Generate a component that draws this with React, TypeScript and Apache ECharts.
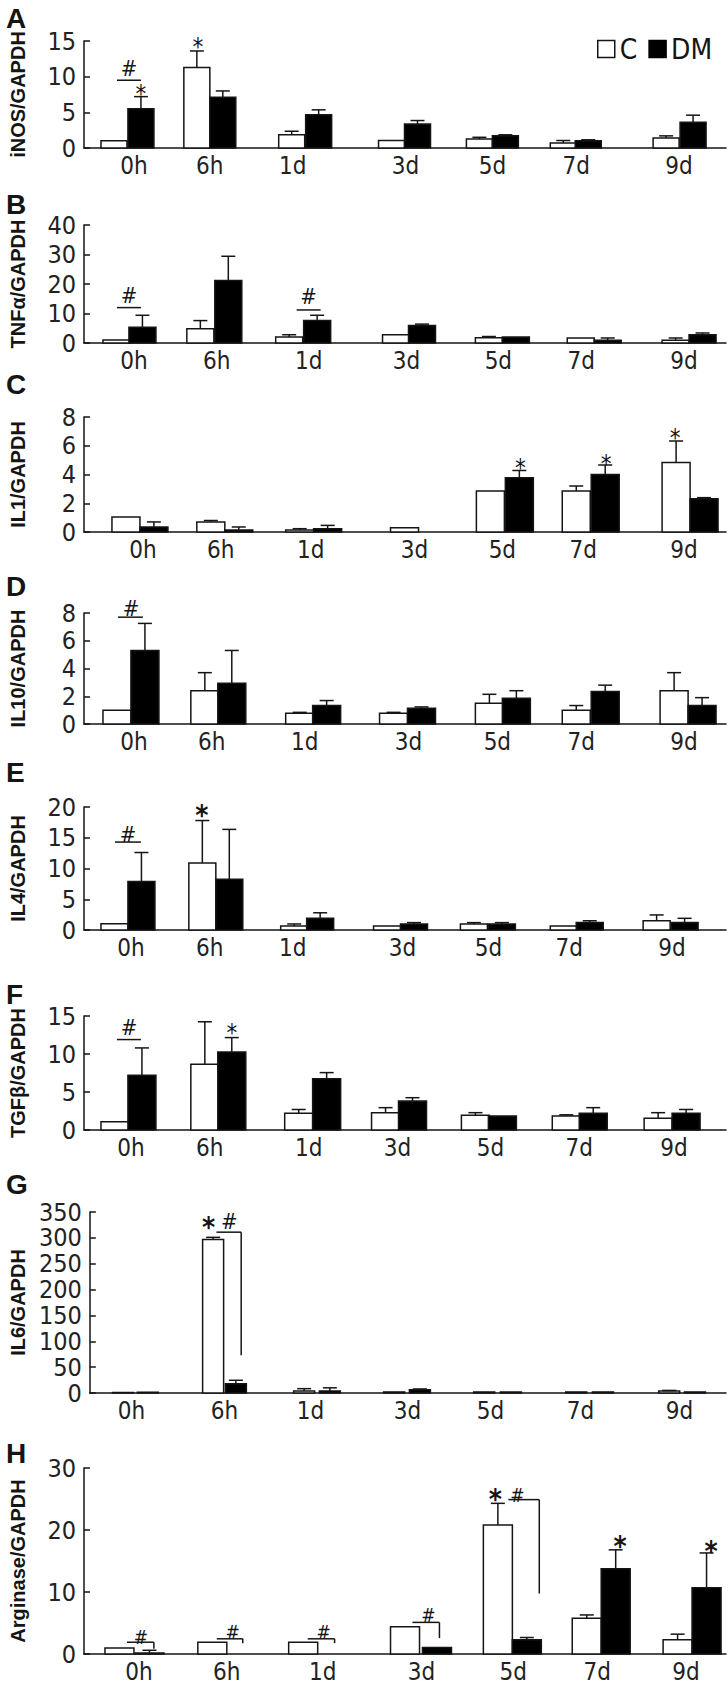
import React, { useEffect, useRef } from "react";
import * as echarts from "echarts";

const CATEGORIES = ["0h", "6h", "1d", "3d", "5d", "7d", "9d"];
const SERIES_NAMES = ["C", "DM"];
const MARK_SYMBOLS = ["*", "#"];

// A — iNOS/GAPDH
const INOS_C = [1.0, 11.3, 1.85, 1.05, 1.25, 0.7, 1.4];
const INOS_C_ERR = [0, 2.3, 0.5, 0, 0.25, 0.35, 0.3];
const INOS_DM = [5.5, 7.1, 4.65, 3.35, 1.7, 1.0, 3.6];
const INOS_DM_ERR = [1.7, 0.9, 0.7, 0.5, 0.15, 0.15, 1.0];

// B — TNFα/GAPDH
const TNF_C = [1.0, 4.8, 2.0, 2.8, 1.8, 1.7, 0.9];
const TNF_C_ERR = [0, 2.8, 0.8, 0, 0.4, 0, 0.8];
const TNF_DM = [5.3, 21.2, 7.6, 5.9, 2.0, 0.9, 2.8];
const TNF_DM_ERR = [4.1, 8.2, 1.8, 0.5, 0, 0.8, 0.6];

// C — IL1/GAPDH
const IL1_C = [1.05, 0.7, 0.14, 0.3, 2.85, 2.85, 4.83];
const IL1_C_ERR = [0, 0.1, 0.09, 0, 0, 0.35, 1.5];
const IL1_DM = [0.35, 0.14, 0.23, 0, 3.78, 4.0, 2.32];
const IL1_DM_ERR = [0.35, 0.21, 0.23, 0, 0.5, 0.66, 0.07];

// D — IL10/GAPDH
const IL10_C = [1.0, 2.4, 0.77, 0.77, 1.5, 1.0, 2.4];
const IL10_C_ERR = [0, 1.3, 0.07, 0.07, 0.64, 0.33, 1.3];
const IL10_DM = [5.3, 2.94, 1.33, 1.13, 1.86, 2.34, 1.33];
const IL10_DM_ERR = [1.95, 2.36, 0.36, 0.1, 0.54, 0.46, 0.57];

// E — IL4/GAPDH
const IL4_C = [1.0, 10.9, 0.65, 0.65, 0.98, 0.65, 1.5];
const IL4_C_ERR = [0, 6.9, 0.33, 0, 0.22, 0, 0.95];
const IL4_DM = [7.9, 8.26, 1.9, 0.98, 0.98, 1.2, 1.2];
const IL4_DM_ERR = [4.7, 8.1, 0.9, 0.22, 0.22, 0.3, 0.7];

// F — TGFβ/GAPDH
const TGF_C = [1.1, 8.64, 2.2, 2.28, 1.93, 1.84, 1.54];
const TGF_C_ERR = [0, 5.6, 0.5, 0.66, 0.35, 0.16, 0.74];
const TGF_DM = [7.2, 10.26, 6.75, 3.8, 1.84, 2.2, 2.2];
const TGF_DM_ERR = [3.6, 1.9, 0.8, 0.45, 0, 0.74, 0.5];

// G — IL6/GAPDH
const IL6_C = [1.0, 297, 4, 2, 2, 2, 4];
const IL6_C_ERR = [0, 4, 4.4, 0, 0, 0, 1];
const IL6_DM = [1.5, 18, 4, 6.5, 2, 2, 2];
const IL6_DM_ERR = [0, 6.6, 6, 1.3, 0, 0, 0];

// H — Arginase/GAPDH
const ARG_C = [0.96, 1.9, 1.9, 4.4, 20.8, 5.75, 2.3];
const ARG_C_ERR = [0, 0, 0, 0, 3.5, 0.55, 0.9];
const ARG_DM = [0.16, 0, 0, 1.06, 2.3, 13.75, 10.7];
const ARG_DM_ERR = [0.44, 0, 0, 0, 0.36, 3.05, 5.6];

// ---------- layout (page pixels) ----------
const W = 728;
const H = 1688;
const AXIS_X = 83;
const AXIS_END = 726;
const FONT = "'Liberation Sans Narrow', 'Arial Narrow', 'DejaVu Sans Condensed', 'Liberation Sans', Arial, sans-serif";
const BOLD_FONT = "'Liberation Sans', Arial, Helvetica, sans-serif";
const INK = "#151515";

type Panel = {
  letter: string; letterY: number; title: string; max: number; interval: number;
  top: number; height: number;
  c: number[]; cErr: number[]; dm: number[]; dmErr: number[];
  cLeft: number[]; dmLeft: number[]; barW: number; labelX: number[];
  marks: number[][]; segs: number[][]; starBold: boolean;
};

const PANELS: Panel[] = [
  {
    letter: "A", letterY: 4, title: "iNOS/GAPDH", max: 15, interval: 5, top: 41, height: 107,
    c: INOS_C, cErr: INOS_C_ERR, dm: INOS_DM, dmErr: INOS_DM_ERR,
    cLeft: [100, 183, 278, 378, 466, 550, 653], dmLeft: [127, 209, 305, 404, 492, 575, 680], barW: 26,
    labelX: [133, 209, 292, 405, 492, 576, 679],
    marks: [[128, 11.2, 1], [140, 8.4, 0], [197, 14.9, 0]],
    segs: [[116, 9.5, 140, 9.5]], starBold: false,
  },
  {
    letter: "B", letterY: 190, title: "TNFα/GAPDH", max: 40, interval: 10, top: 225, height: 118,
    c: TNF_C, cErr: TNF_C_ERR, dm: TNF_DM, dmErr: TNF_DM_ERR,
    cLeft: [102, 186, 275, 382, 475, 567, 662], dmLeft: [128, 214, 303, 408, 502, 594, 689], barW: 27,
    labelX: [133, 216, 308, 406, 498, 581, 684],
    marks: [[128, 16.1, 1], [308, 15.9, 1]],
    segs: [[116, 12, 140, 12], [296, 11.2, 320, 11.2]], starBold: false,
  },
  {
    letter: "C", letterY: 370, title: "IL1/GAPDH", max: 8, interval: 2, top: 417, height: 115,
    c: IL1_C, cErr: IL1_C_ERR, dm: IL1_DM, dmErr: IL1_DM_ERR,
    cLeft: [111, 196, 285, 390, 476, 562, 662], dmLeft: [139, 224, 313, 418, 505, 591, 690], barW: 28,
    labelX: [142, 220, 310, 414, 502, 583, 684],
    marks: [[520, 4.85, 0], [606, 5.1, 0], [675, 6.9, 0]],
    segs: [], starBold: false,
  },
  {
    letter: "D", letterY: 572, title: "IL10/GAPDH", max: 8, interval: 2, top: 613, height: 111,
    c: IL10_C, cErr: IL10_C_ERR, dm: IL10_DM, dmErr: IL10_DM_ERR,
    cLeft: [102, 190, 285, 379, 475, 562, 660], dmLeft: [130, 217, 312, 407, 502, 591, 688], barW: 28,
    labelX: [133, 211, 304, 408, 497, 581, 684],
    marks: [[130, 8.3, 1]],
    segs: [[117, 7.7, 142, 7.7]], starBold: false,
  },
  {
    letter: "E", letterY: 758, title: "IL4/GAPDH", max: 20, interval: 5, top: 807, height: 123,
    c: IL4_C, cErr: IL4_C_ERR, dm: IL4_DM, dmErr: IL4_DM_ERR,
    cLeft: [100, 188, 280, 373, 460, 550, 643], dmLeft: [127, 215, 306, 400, 488, 576, 671], barW: 27,
    labelX: [130, 209, 292, 402, 488, 569, 672],
    marks: [[127, 15.5, 1], [201, 19.6, 0]],
    segs: [[114, 14.3, 140, 14.3]], starBold: true,
  },
  {
    letter: "F", letterY: 980, title: "TGFβ/GAPDH", max: 15, interval: 5, top: 1016, height: 114,
    c: TGF_C, cErr: TGF_C_ERR, dm: TGF_DM, dmErr: TGF_DM_ERR,
    cLeft: [100, 190, 284, 371, 461, 552, 644], dmLeft: [127, 217, 312, 398, 488, 579, 672], barW: 28,
    labelX: [130, 209, 308, 397, 490, 579, 674],
    marks: [[128, 13.5, 1], [231, 13.5, 0]],
    segs: [[116, 11.9, 140, 11.9]], starBold: false,
  },
  {
    letter: "G", letterY: 1170, title: "IL6/GAPDH", max: 350, interval: 50, top: 1212, height: 181,
    c: IL6_C, cErr: IL6_C_ERR, dm: IL6_DM, dmErr: IL6_DM_ERR,
    cLeft: [106, 197, 289, 380, 471, 564, 658], dmLeft: [131, 220, 315, 406, 498, 591, 684], barW: 21,
    labelX: [125, 219, 306, 404, 488, 579, 679],
    marks: [[203, 332, 0], [224, 332, 1]],
    segs: [[211, 311, 236, 311], [236, 311, 236, 73]], starBold: true,
  },
  {
    letter: "H", letterY: 1439, title: "Arginase/GAPDH", max: 30, interval: 10, top: 1468, height: 186,
    c: ARG_C, cErr: ARG_C_ERR, dm: ARG_DM, dmErr: ARG_DM_ERR,
    cLeft: [104, 197, 288, 390, 483, 572, 663], dmLeft: [134, 227, 318, 422, 512, 601, 692], barW: 29,
    labelX: [138, 226, 322, 421, 513, 597, 686],
    marks: [[140, 2.7, 1], [232, 3.5, 1], [323, 3.5, 1], [428, 6.3, 1], [495, 26, 0], [517, 25.7, 1], [620, 18.3, 0], [711, 17.5, 0]],
    segs: [[126, 1.9, 153, 1.9], [153, 1.9, 153, 0.85], [216, 2.45, 242, 2.45], [242, 2.45, 242, 1.75],
      [307, 2.45, 334, 2.45], [334, 2.45, 334, 1.75], [412, 5.1, 439, 5.1], [439, 5.1, 439, 2.56],
      [508, 24.9, 539, 24.9], [539, 24.9, 539, 9.75]], starBold: true,
  },
];

const CAP_W = 14;

function barRenderer(w: number, fill: string) {
  return (params: any, api: any) => {
    const x = api.value(0);
    const v = api.value(1);
    const e = api.value(2);
    const base = api.coord([x, 0]);
    const top = api.coord([x, v]);
    const px = base[0];
    const children: any[] = [];
    if (v > 0) {
      children.push({
        type: "rect",
        shape: { x: px, y: top[1], width: w, height: base[1] - top[1] },
        style: { fill, stroke: INK, lineWidth: 1.5 },
      });
    }
    if (e > 0) {
      const et = api.coord([x, v + e]);
      const cx = px + w / 2;
      children.push({ type: "line", shape: { x1: cx, y1: top[1], x2: cx, y2: et[1] }, style: { stroke: INK, lineWidth: 1.5 } });
      children.push({ type: "line", shape: { x1: cx - CAP_W / 2, y1: et[1], x2: cx + CAP_W / 2, y2: et[1] }, style: { stroke: INK, lineWidth: 1.5 } });
    }
    return { type: "group", children };
  };
}

function buildOption() {
  const grid: any[] = [];
  const xAxis: any[] = [];
  const yAxis: any[] = [];
  const series: any[] = [];
  PANELS.forEach((p, i) => {
    grid.push({ left: AXIS_X, right: W - AXIS_END, top: p.top, height: p.height });
    xAxis.push({
      gridIndex: i, type: "value", min: AXIS_X, max: AXIS_END,
      splitLine: { show: false }, axisTick: { show: false },
      axisLine: { show: true, onZero: false, lineStyle: { color: INK, width: 1.5 } },
      axisLabel: {
        customValues: p.labelX,
        formatter: (v: number) => {
          const k = p.labelX.indexOf(v);
          return k >= 0 ? CATEGORIES[k] : "";
        },
        margin: 6, fontSize: 24, color: "#222", fontFamily: FONT,
      },
    });
    yAxis.push({
      gridIndex: i, type: "value", min: 0, max: p.max, interval: p.interval,
      splitLine: { show: false },
      axisLine: { show: true, lineStyle: { color: INK, width: 1.5 } },
      axisTick: { show: true, inside: true, length: 6, lineStyle: { color: INK, width: 1.5 } },
      axisLabel: { fontSize: 25, color: "#222", margin: 8, fontFamily: FONT },
      name: p.title, nameLocation: "middle", nameGap: 56, nameRotate: 90,
      nameTextStyle: { fontSize: 20, fontWeight: "bold", color: INK, fontFamily: BOLD_FONT },
    });
    series.push({
      type: "custom", name: SERIES_NAMES[0], xAxisIndex: i, yAxisIndex: i, silent: true,
      data: p.c.map((v, k) => [p.cLeft[k], v, p.cErr[k]]),
      renderItem: barRenderer(p.barW, "#ffffff"),
      itemStyle: { color: "#ffffff" },
    });
    series.push({
      type: "custom", name: SERIES_NAMES[1], xAxisIndex: i, yAxisIndex: i, silent: true,
      data: p.dm.map((v, k) => [p.dmLeft[k], v, p.dmErr[k]]),
      renderItem: barRenderer(p.barW, "#000000"),
      itemStyle: { color: "#000000" },
    });
    series.push({
      type: "custom", xAxisIndex: i, yAxisIndex: i, silent: true,
      data: p.marks,
      renderItem: (params: any, api: any) => {
        const pt = api.coord([api.value(0), api.value(1)]);
        const kind = api.value(2);
        const sym = MARK_SYMBOLS[kind];
        const isStar = kind === 0;
        const fs = isStar ? (p.starBold ? 28 : 24) : (p.letter === "H" ? 19 : 22);
        return {
          type: "text",
          x: pt[0],
          y: pt[1] + (isStar ? fs * 0.23 : 0),
          style: {
            text: sym, fill: INK, fontSize: fs, fontFamily: FONT,
            fontWeight: isStar && p.starBold ? "bold" : "normal",
            align: "center", verticalAlign: "middle",
          },
        };
      },
    });
    series.push({
      type: "custom", xAxisIndex: i, yAxisIndex: i, silent: true,
      data: p.segs,
      renderItem: (params: any, api: any) => {
        const a = api.coord([api.value(0), api.value(1)]);
        const b = api.coord([api.value(2), api.value(3)]);
        return { type: "line", shape: { x1: a[0], y1: a[1], x2: b[0], y2: b[1] }, style: { stroke: INK, lineWidth: 1.5 } };
      },
    });
  });

  return {
    animation: false,
    backgroundColor: "#ffffff",
    textStyle: { fontFamily: FONT },
    grid, xAxis, yAxis, series,
    legend: {
      left: 592, top: 30, itemWidth: 17, itemHeight: 17, itemGap: 11, selectedMode: false,
      textStyle: { fontSize: 28, color: INK, fontFamily: FONT },
      data: [
        { name: SERIES_NAMES[0], icon: "rect", itemStyle: { color: "#ffffff", borderColor: INK, borderWidth: 1.5 } },
        { name: SERIES_NAMES[1], icon: "rect", itemStyle: { color: "#000000", borderColor: "#000000", borderWidth: 1.5 } },
      ],
    },
    graphic: PANELS.map((p) => ({
      type: "text", left: 6, top: p.letterY, silent: true,
      style: { text: p.letter, fontSize: 28, fontWeight: "bold", fontFamily: BOLD_FONT, fill: INK },
    })),
  };
}

export default function App() {
  const ref = useRef<HTMLDivElement>(null);
  useEffect(() => {
    document.body.style.margin = "0";
    if (!ref.current) return;
    const chart = echarts.init(ref.current, undefined, { renderer: "svg" });
    chart.setOption(buildOption() as any);
    return () => chart.dispose();
  }, []);
  return <div ref={ref} style={{ width: W, height: H }} />;
}
